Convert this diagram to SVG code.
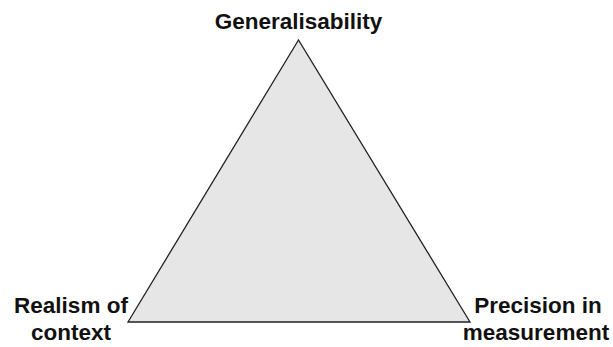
<svg xmlns="http://www.w3.org/2000/svg" width="613" height="347" viewBox="0 0 613 347">
<style>
.lbl{font-family:"Liberation Sans",Arial,sans-serif;font-weight:bold;font-size:22.5px;fill:#111;text-anchor:middle}
</style>
<rect width="613" height="347" fill="#fff"/>
<g id="triangle">
<polygon points="298.5,40 128,322 470,322" fill="#e6e6e6" stroke="#222" stroke-width="1.3"/>
</g>
<g id="apex-label"><text class="lbl" x="298.5" y="29">Generalisability</text></g>
<g id="left-label"><text class="lbl" x="71" y="313">Realism of</text><text class="lbl" x="71" y="340">context</text></g>
<g id="right-label"><text class="lbl" x="538" y="313">Precision in</text><text class="lbl" x="536" y="340">measurement</text></g>
<g id="connectors"/>
</svg>
